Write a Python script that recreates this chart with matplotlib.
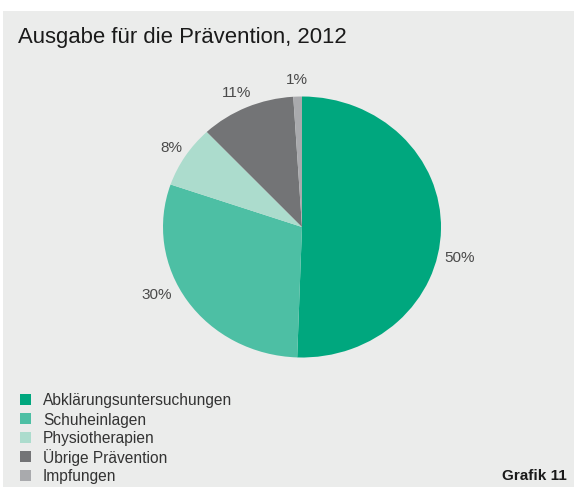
import matplotlib.pyplot as plt
from matplotlib.patches import Rectangle

# Daten
kategorien = ["Abklärungsuntersuchungen", "Schuheinlagen", "Physiotherapien",
              "Übrige Prävention", "Impfungen"]
anteile = [50.5, 29.7, 7.7, 11.0, 1.0]
beschriftung = ["50%", "30%", "8%", "11%", "1%"]
farben = ["#00a77e", "#4dbfa4", "#acdccd", "#737476", "#a9aaad"]

# Position der Prozentangaben (relativ zum Radius)
label_pos = [(1.137, -0.238), (-1.043, -0.52), (-0.94, 0.605),
             (-0.468, 1.027), (-0.036, 1.126)]

plt.rcParams["font.family"] = ["Liberation Sans", "DejaVu Sans"]

W, H = 574, 487
fig = plt.figure(figsize=(W / 100, H / 100), dpi=100)
fig.patch.set_facecolor("white")

# grauer Hintergrund
fig.patches.append(Rectangle((3 / W, 0), 1, 1 - 11 / H, transform=fig.transFigure,
                             facecolor="#ebeceb", edgecolor="none", zorder=-5))

# Titel
fig.text(18 / W, 1 - 37 / H, "Ausgabe für die Prävention, 2012", fontsize=15.9,
         color="#1a1a1a", va="center", ha="left")

# Kreis (leicht elliptisch wie im Original)
cx, cy, rx, ry = 302, 227, 139, 130.5
ax = fig.add_axes([(cx - rx) / W, 1 - (cy + ry) / H, 2 * rx / W, 2 * ry / H])
ax.set_zorder(2)
ax.patch.set_visible(False)
wedges, _ = ax.pie(anteile, colors=farben, startangle=90, counterclock=False,
                   wedgeprops=dict(linewidth=0))
ax.set_aspect("auto")
ax.set_xlim(-1, 1)
ax.set_ylim(-1, 1)
ax.axis("off")

for txt, (x, y) in zip(beschriftung, label_pos):
    ax.text(x, y, txt, ha="center", va="center", fontsize=11, color="#4a4a4a",
            clip_on=False)

# Legende (von Hand)
for i, (name, farbe) in enumerate(zip(kategorien, farben)):
    y = 399.5 + i * 19
    fig.patches.append(Rectangle((20 / W, 1 - (y + 5.5) / H), 11 / W, 11 / H,
                                 transform=fig.transFigure, facecolor=farbe,
                                 edgecolor="none"))
    fig.text(43 / W, 1 - y / H, name, fontsize=11.2, color="#333333",
             ha="left", va="center_baseline")

fig.text(567 / W, 1 - 476 / H, "Grafik 11", fontsize=11, fontweight="bold",
         color="#1a1a1a", ha="right", va="center")

fig.savefig("out.png", dpi=100)
